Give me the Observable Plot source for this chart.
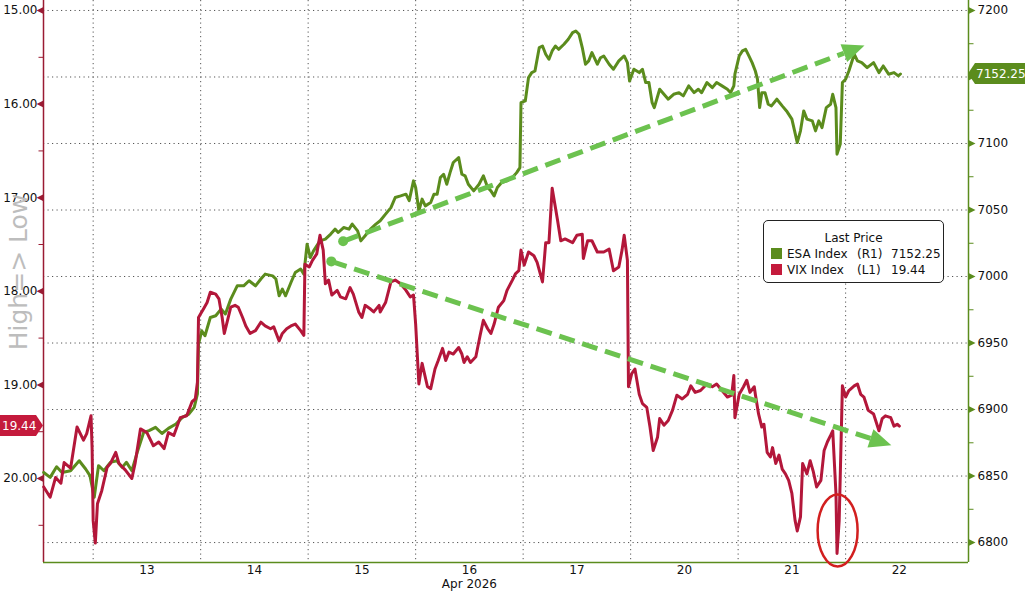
<!DOCTYPE html>
<html><head><meta charset="utf-8">
<script src="https://cdn.jsdelivr.net/npm/d3@7"></script>
<script src="https://cdn.jsdelivr.net/npm/@observablehq/plot@0.6"></script>
<style>
body{margin:0;background:#fff;}
#wrap{position:relative;width:1025px;height:594px;font-family:"DejaVu Sans",sans-serif;overflow:hidden;}
#legend{position:absolute;left:763px;top:220px;width:181px;height:63px;border:1px solid #222;border-radius:5px;background:#fff;font-size:12px;color:#111;box-sizing:border-box;}
#legend span{position:absolute;white-space:pre;line-height:14px;}
#legend .sw{width:11px;height:11px;}
#ytitle{position:absolute;left:18px;top:272px;transform:translate(-50%,-50%) rotate(-90deg);font-size:25px;color:#bdbdbd;white-space:pre;line-height:1;}
</style></head>
<body><div id="wrap"><div id="chart"></div>
<div id="ytitle"></div>
<div id="legend"></div></div>
<script>
// ---- data (x = trading-day position, 0 = start of the "13" session) ----
const dayLabels = ["13","14","15","16","17","20","21","22"];
const dayCenters = [0.5,1.5,2.5,3.5,4.5,5.5,6.5,7.5];
const dayBounds = [0,1,2,3,4,5,6,7];
const monthLabel = "Apr 2026";
const esaTicks = [6800,6850,6900,6950,7000,7050,7100,7150,7200];
const esaTickLabels = ["6800","6850","6900","6950","7000","7050","7100","","7200"];
const esaMinor = [6825,6875,6925,6975,7025,7075,7125,7175];
const vixTicks = [15,16,17,18,19,20];
const vixMinor = [15.5,16.5,17.5,18.5,19.5,20.5];
const esaLast = 7152.25;
const vixLast = 19.44;
const yTitle = "High=> Low";
const legendTitle = "Last Price";
const legendNames = ["ESA Index", "VIX Index"];
const legendAxes = ["(R1)", "(L1)"];

const vix = [
[-0.46,20.09],[-0.40,20.20],[-0.35,19.99],[-0.30,20.05],[-0.27,19.83],[-0.21,19.89],[-0.15,19.45],[-0.09,19.59],[-0.06,19.52],[-0.02,19.33],[-0.01,19.67],[0.00,20.45],[0.02,20.69],[0.04,20.27],[0.08,20.13],[0.13,19.88],[0.16,19.84],[0.21,19.72],[0.24,19.84],[0.30,19.91],[0.36,20.00],[0.39,19.84],[0.44,19.47],[0.50,19.51],[0.56,19.65],[0.61,19.61],[0.66,19.68],[0.70,19.51],[0.75,19.54],[0.81,19.35],[0.87,19.33],[0.92,19.18],[0.95,19.15],[0.97,18.97],[0.98,18.28],[1.00,18.24],[1.03,18.18],[1.06,18.12],[1.09,18.01],[1.14,18.03],[1.17,18.08],[1.20,18.28],[1.22,18.45],[1.25,18.31],[1.28,18.17],[1.32,18.15],[1.35,18.17],[1.39,18.28],[1.42,18.37],[1.46,18.45],[1.51,18.42],[1.56,18.33],[1.60,18.37],[1.65,18.40],[1.68,18.38],[1.73,18.53],[1.76,18.45],[1.80,18.40],[1.84,18.37],[1.88,18.35],[1.93,18.42],[1.96,18.47],[1.97,17.71],[2.01,17.74],[2.04,17.67],[2.08,17.60],[2.11,17.40],[2.14,17.56],[2.16,17.92],[2.19,17.88],[2.22,18.04],[2.27,17.99],[2.30,18.06],[2.35,18.08],[2.39,17.96],[2.42,18.03],[2.47,18.22],[2.50,18.28],[2.53,18.15],[2.58,18.19],[2.61,18.22],[2.66,18.15],[2.67,18.22],[2.72,18.12],[2.77,17.90],[2.81,17.88],[2.86,17.92],[2.91,17.99],[2.95,18.06],[2.98,18.04],[3.00,18.35],[3.03,18.99],[3.06,18.77],[3.11,19.02],[3.14,19.04],[3.18,18.83],[3.21,18.74],[3.25,18.61],[3.28,18.74],[3.31,18.65],[3.35,18.67],[3.40,18.60],[3.43,18.67],[3.45,18.76],[3.48,18.70],[3.51,18.76],[3.56,18.70],[3.60,18.47],[3.63,18.31],[3.67,18.40],[3.70,18.45],[3.73,18.35],[3.77,18.17],[3.82,18.10],[3.85,17.99],[3.90,17.88],[3.93,17.81],[3.96,17.78],[3.98,17.56],[4.01,17.72],[4.05,17.58],[4.10,17.62],[4.13,17.69],[4.18,17.90],[4.21,17.48],[4.24,17.48],[4.27,16.90],[4.32,17.24],[4.35,17.46],[4.39,17.44],[4.46,17.48],[4.50,17.40],[4.55,17.39],[4.56,17.65],[4.60,17.46],[4.64,17.46],[4.69,17.58],[4.75,17.58],[4.80,17.55],[4.84,17.78],[4.89,17.74],[4.92,17.56],[4.94,17.40],[4.97,17.67],[4.98,19.02],[5.01,18.88],[5.04,18.83],[5.08,19.10],[5.11,19.20],[5.15,19.24],[5.18,19.45],[5.21,19.70],[5.25,19.56],[5.27,19.36],[5.31,19.43],[5.35,19.38],[5.39,19.27],[5.43,19.11],[5.48,19.15],[5.53,19.10],[5.56,19.01],[5.60,19.08],[5.65,19.06],[5.71,18.99],[5.76,19.02],[5.80,18.99],[5.85,19.06],[5.90,19.13],[5.94,19.11],[5.96,18.90],[5.97,19.35],[6.01,19.10],[6.05,19.02],[6.08,18.95],[6.11,19.08],[6.15,19.02],[6.16,19.10],[6.19,19.31],[6.22,19.45],[6.24,19.42],[6.27,19.72],[6.30,19.77],[6.32,19.67],[6.35,19.84],[6.38,19.75],[6.41,19.90],[6.44,19.95],[6.47,20.02],[6.50,20.16],[6.53,20.45],[6.55,20.56],[6.58,20.41],[6.60,19.84],[6.64,19.95],[6.67,19.81],[6.70,19.93],[6.73,20.09],[6.77,20.02],[6.80,19.70],[6.83,19.61],[6.86,19.54],[6.88,19.49],[6.91,20.16],[6.92,20.80],[6.94,20.45],[6.97,19.01],[7.00,19.13],[7.03,19.06],[7.08,19.01],[7.11,18.99],[7.14,19.10],[7.17,19.13],[7.21,19.27],[7.26,19.31],[7.31,19.49],[7.34,19.36],[7.37,19.33],[7.42,19.35],[7.45,19.44],[7.48,19.42],[7.50,19.44]
];

const esa = [
[-0.46,6852.7],[-0.40,6849.0],[-0.34,6857.0],[-0.29,6852.7],[-0.21,6854.0],[-0.13,6861.5],[-0.07,6855.3],[-0.03,6850.3],[0.01,6834.0],[0.05,6857.8],[0.10,6854.0],[0.16,6860.3],[0.22,6861.5],[0.27,6856.5],[0.31,6860.3],[0.36,6854.0],[0.41,6867.8],[0.47,6882.8],[0.52,6884.1],[0.58,6886.6],[0.64,6882.0],[0.70,6885.8],[0.77,6889.1],[0.83,6894.1],[0.89,6896.6],[0.94,6901.6],[0.97,6911.7],[0.98,6949.2],[1.01,6959.2],[1.04,6955.5],[1.09,6969.2],[1.14,6970.5],[1.19,6975.5],[1.23,6971.8],[1.28,6983.0],[1.34,6993.0],[1.40,6993.0],[1.45,6996.8],[1.51,6993.0],[1.56,6998.1],[1.60,7001.8],[1.67,7000.5],[1.70,6998.1],[1.73,6985.5],[1.76,6990.5],[1.79,6985.5],[1.84,6995.5],[1.88,7003.0],[1.93,7005.6],[1.96,7001.8],[1.99,7024.3],[2.02,7014.3],[2.05,7019.3],[2.11,7026.8],[2.16,7028.1],[2.21,7031.9],[2.25,7035.6],[2.28,7033.1],[2.33,7036.8],[2.38,7035.6],[2.41,7039.4],[2.46,7034.3],[2.49,7026.8],[2.53,7030.6],[2.58,7035.6],[2.63,7039.4],[2.67,7041.9],[2.72,7046.9],[2.77,7051.8],[2.81,7059.4],[2.86,7060.6],[2.91,7061.9],[2.94,7057.0],[2.98,7071.9],[3.00,7066.9],[3.03,7049.4],[3.06,7058.2],[3.09,7053.1],[3.14,7055.6],[3.17,7061.9],[3.20,7061.9],[3.23,7074.4],[3.26,7076.9],[3.29,7069.4],[3.32,7078.1],[3.35,7085.7],[3.40,7089.4],[3.43,7076.9],[3.46,7075.7],[3.49,7069.4],[3.54,7064.4],[3.59,7069.4],[3.63,7075.7],[3.67,7066.9],[3.70,7064.4],[3.73,7060.6],[3.76,7066.9],[3.80,7070.6],[3.85,7071.9],[3.90,7074.4],[3.94,7078.1],[3.97,7081.9],[3.98,7130.7],[4.02,7132.0],[4.05,7149.5],[4.08,7153.3],[4.11,7154.5],[4.15,7172.1],[4.18,7173.3],[4.21,7167.1],[4.24,7163.3],[4.27,7169.6],[4.30,7173.3],[4.33,7170.8],[4.38,7174.6],[4.42,7178.4],[4.46,7183.3],[4.49,7184.6],[4.52,7182.1],[4.55,7172.1],[4.58,7159.6],[4.61,7162.1],[4.64,7168.3],[4.69,7159.6],[4.72,7164.5],[4.75,7165.8],[4.80,7159.6],[4.84,7155.8],[4.89,7162.1],[4.94,7165.8],[4.97,7160.8],[4.99,7147.0],[5.03,7155.8],[5.08,7153.3],[5.11,7155.8],[5.14,7145.8],[5.17,7145.8],[5.20,7130.7],[5.22,7127.0],[5.27,7140.8],[5.31,7137.0],[5.35,7133.3],[5.40,7137.0],[5.45,7138.2],[5.49,7135.8],[5.54,7143.3],[5.59,7138.2],[5.63,7140.8],[5.66,7138.2],[5.71,7145.8],[5.76,7142.0],[5.80,7145.8],[5.85,7143.3],[5.90,7140.8],[5.93,7138.2],[5.96,7143.3],[5.97,7152.1],[6.01,7165.8],[6.04,7169.6],[6.07,7170.8],[6.10,7165.8],[6.13,7160.8],[6.16,7154.5],[6.18,7148.3],[6.20,7127.0],[6.22,7138.2],[6.25,7138.2],[6.28,7129.5],[6.31,7128.3],[6.36,7133.3],[6.41,7128.3],[6.45,7124.5],[6.50,7118.3],[6.55,7100.7],[6.58,7109.5],[6.61,7124.5],[6.64,7118.3],[6.69,7117.0],[6.72,7109.5],[6.75,7117.0],[6.78,7111.9],[6.82,7127.0],[6.86,7129.5],[6.88,7137.0],[6.91,7127.0],[6.92,7092.0],[6.95,7099.5],[6.97,7145.8],[7.00,7148.3],[7.03,7154.5],[7.08,7167.1],[7.11,7162.1],[7.15,7160.8],[7.20,7157.0],[7.26,7160.8],[7.31,7153.3],[7.35,7158.3],[7.40,7152.1],[7.45,7153.3],[7.49,7150.8],[7.51,7152.25]
];

// annotation anchors (x = day position, y in ESA units)
const trendArrows = [
  {t1: 2.33, e1: 7026.1, t2: 7.18, e2: 7173.3},
  {t1: 2.22, e1: 7011.0, t2: 7.43, e2: 6872.8}
];
const circled = {t: 6.93, v: 20.56};

// ---- styling ----
const GREEN = "#5b8c1d", RED = "#b3173a", AXRED = "#9a1b33", TREND = "#6cc24f", FLAGRED = "#c41a3c";
const X0 = -0.462, X1 = 8.143, Y0 = 6785, Y1 = 7207.5;
// left (VIX, inverted) axis expressed in right-axis units
const vixToY = v => 7199.97 - (v - 15) * 70.365;

const esaData = esa.map(([t, v]) => ({t, v}));
const vixData = vix.map(([t, v]) => ({t, y: vixToY(v)}));

const triRight = {draw(c){ c.moveTo(0,-3.5); c.lineTo(7,0); c.lineTo(0,3.5); c.closePath(); }};
const triLeft  = {draw(c){ c.moveTo(0,-3.5); c.lineTo(-7,0); c.lineTo(0,3.5); c.closePath(); }};
const tickR = {draw(c){ c.moveTo(0,0); c.lineTo(5,0); }};
const tickL = {draw(c){ c.moveTo(-5,0); c.lineTo(0,0); }};

function annotations(index, scales, values, dims) {
  const g = d3.create("svg:g");
  for (const a of trendArrows) {
    const x1 = scales.x(a.t1), y1 = scales.y(a.e1), x2 = scales.x(a.t2), y2 = scales.y(a.e2);
    const ang = Math.atan2(y2 - y1, x2 - x1), hl = 22, hw = 9.5;
    const bx = x2 - hl * Math.cos(ang), by = y2 - hl * Math.sin(ang);
    g.append("line").attr("x1", x1).attr("y1", y1).attr("x2", bx).attr("y2", by)
      .attr("stroke", TREND).attr("stroke-width", 5).attr("stroke-dasharray", "16,8");
    g.append("circle").attr("cx", x1).attr("cy", y1).attr("r", 5).attr("fill", TREND);
    g.append("path").attr("d", `M${x2},${y2}L${bx - hw*Math.sin(ang)},${by + hw*Math.cos(ang)}L${bx + hw*Math.sin(ang)},${by - hw*Math.cos(ang)}Z`)
      .attr("fill", TREND);
  }
  g.append("ellipse").attr("cx", scales.x(circled.t)).attr("cy", scales.y(vixToY(circled.v)))
    .attr("rx", 20).attr("ry", 36).attr("fill", "none").attr("stroke", "#d21f1f").attr("stroke-width", 2.5);
  return g.node();
}

function flags(index, scales, values, dims) {
  const g = d3.create("svg:g").attr("font-family", "DejaVu Sans").attr("font-size", 12).attr("text-anchor", "start");
  const xr = dims.width - dims.marginRight, xl = dims.marginLeft, W = dims.width;
  const yE = scales.y(esaLast), yV = scales.y(vixToY(vixLast));
  g.append("path").attr("d", `M${xr},${yE}L${xr+7},${yE-10.5}H${W}V${yE+10.5}H${xr+7}Z`).attr("fill", GREEN);
  g.append("text").attr("x", xr + 8).attr("y", yE).attr("dy", "0.36em").attr("fill", "#fff").text(esaLast.toFixed(2));
  g.append("path").attr("d", `M${xl},${yV}L${xl-7},${yV-10.5}H0V${yV+10.5}H${xl-7}Z`).attr("fill", FLAGRED);
  g.append("text").attr("x", 2).attr("y", yV).attr("dy", "0.36em").attr("fill", "#fff").text(vixLast.toFixed(2));
  return g.node();
}

const chart = Plot.plot({
  width: 1025, height: 594,
  marginLeft: 43, marginRight: 57, marginTop: 0, marginBottom: 32,
  x: {domain: [X0, X1], axis: null},
  y: {domain: [Y0, Y1], axis: null},
  style: {fontFamily: "DejaVu Sans", fontSize: "12px", background: "#fff", color: "#111", overflow: "visible"},
  marks: [
    Plot.ruleY(esaTicks, {stroke: "#555", strokeDasharray: "1.2,3.3", strokeWidth: 1}),
    Plot.ruleX(dayBounds, {stroke: "#555", strokeDasharray: "1.2,3.3", strokeWidth: 1}),
    Plot.ruleX([X0], {stroke: AXRED, strokeWidth: 1.5}),
    Plot.ruleX([X1], {stroke: GREEN, strokeWidth: 1.5}),
    Plot.ruleY([Y0], {stroke: GREEN, strokeWidth: 1.5}),
    // right axis (ESA)
    Plot.dot(esaTicks, {x: () => X1, y: d => d, symbol: triRight, fill: GREEN, stroke: "none"}),
    Plot.dot(esaMinor, {x: () => X1, y: d => d, symbol: tickR, fill: "none", stroke: GREEN, strokeWidth: 1}),
    Plot.text(esaTicks, {x: () => X1, y: d => d, text: (d, i) => esaTickLabels[i], textAnchor: "start", dx: 9, fill: "#111"}),
    // left axis (VIX, inverted)
    Plot.dot(vixTicks, {x: () => X0, y: d => vixToY(d), symbol: triLeft, fill: AXRED, stroke: "none"}),
    Plot.dot(vixMinor, {x: () => X0, y: d => vixToY(d), symbol: tickL, fill: "none", stroke: AXRED, strokeWidth: 1}),
    Plot.text(vixTicks, {x: () => X0, y: d => vixToY(d), text: d => d.toFixed(2), textAnchor: "end", dx: -6, fill: "#111"}),
    // x axis
    Plot.text(dayCenters, {x: d => d, text: (d, i) => dayLabels[i], frameAnchor: "bottom", dy: 11, fill: "#111"}),
    Plot.text([monthLabel], {x: () => dayCenters[3], text: d => d, frameAnchor: "bottom", dy: 25, fill: "#111"}),
    // series
    Plot.line(esaData, {x: "t", y: "v", stroke: GREEN, strokeWidth: 3, strokeLinejoin: "round"}),
    Plot.line(vixData, {x: "t", y: "y", stroke: RED, strokeWidth: 3, strokeLinejoin: "round"}),
    annotations,
    flags
  ]
});
document.getElementById("chart").appendChild(chart);
document.getElementById("ytitle").textContent = yTitle;

// legend
const lg = d3.select("#legend");
lg.append("span").style("left", "0").style("right", "0").style("text-align", "center").style("top", "10px").text(legendTitle);
const lastVals = [esaLast.toFixed(2), vixLast.toFixed(2)];
[GREEN, FLAGRED].forEach((c, i) => {
  const top = 26 + i * 16;
  lg.append("span").attr("class", "sw").style("left", "7px").style("top", (top + 1) + "px").style("background", c);
  lg.append("span").style("left", "23px").style("top", top + "px").text(legendNames[i]);
  lg.append("span").style("left", "93px").style("top", top + "px").text(legendAxes[i]);
  lg.append("span").style("left", "127px").style("top", top + "px").text(lastVals[i]);
});
</script></body></html>
